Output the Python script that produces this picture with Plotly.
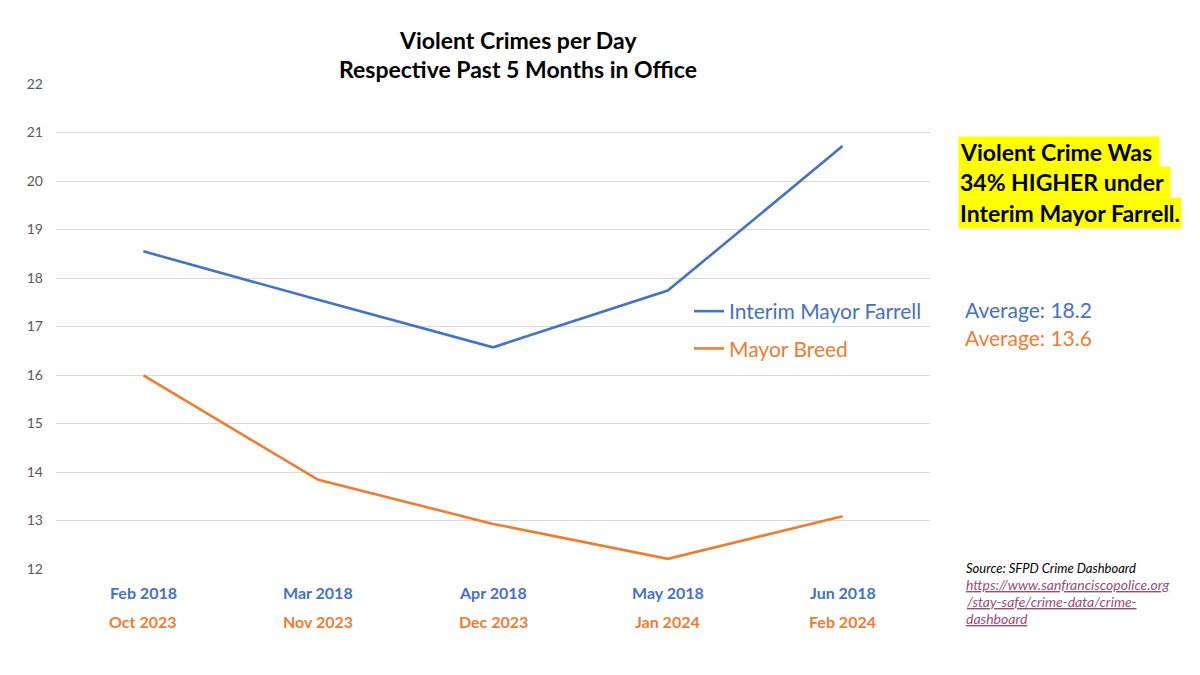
import plotly.graph_objects as go

months = ["Feb 2018", "Mar 2018", "Apr 2018", "May 2018", "Jun 2018"]
months_breed = ["Oct 2023", "Nov 2023", "Dec 2023", "Jan 2024", "Feb 2024"]
farrell = [18.55, 17.55, 16.57, 17.74, 20.72]
breed = [15.99, 13.84, 12.93, 12.21, 13.09]
y_ticks = [12, 13, 14, 15, 16, 17, 18, 19, 20, 21, 22]

BLUE = "#4472C4"
ORANGE = "#ED7D31"
FONT = "Lato"

# plot area in screen pixels (page body has an 8px offset)
PL, PR, PT, PB = 56, 930, 84, 569
OFF = 8

fig = go.Figure()
fig.add_trace(go.Scatter(x=months, y=farrell, mode="lines", legendgroup="a",
                         line=dict(color=BLUE, width=2.6),
                         name=f"<span style='color:{BLUE}'>Interim Mayor Farrell</span>"))
fig.add_trace(go.Scatter(x=months, y=breed, mode="lines", legendgroup="b",
                         line=dict(color=ORANGE, width=2.6),
                         name=f"<span style='color:{ORANGE}'>Mayor Breed</span>"))


def px_x(px):
    return (px - PL) / (PR - PL)


def px_y(py):
    return (PB - py) / (PB - PT)


fig.update_layout(
    width=1200, height=675,
    paper_bgcolor="white", plot_bgcolor="white",
    margin=dict(l=PL - OFF, r=1200 - PR + OFF, t=PT - OFF, b=675 - PB + OFF),
    font=dict(family=FONT),
    showlegend=True,
    legend=dict(x=px_x(689), y=px_y(291), xanchor="left", yanchor="top",
                font=dict(size=21, family=FONT), bgcolor="rgba(0,0,0,0)",
                tracegroupgap=7, itemwidth=30),
    xaxis=dict(type="category", range=[-0.5, 4.5], showticklabels=False,
               showgrid=False, zeroline=False, showline=False, ticks=""),
    yaxis=dict(range=[12, 22], tickvals=y_ticks, showgrid=True, gridcolor="#D9D9D9",
               gridwidth=1, zeroline=False, showline=False, ticks="",
               tickfont=dict(size=14, color="#595959", family=FONT), ticklabelstandoff=12),
)

anns = []
for m, mb in zip(months, months_breed):
    anns.append(dict(x=m, y=px_y(592), xref="x", yref="paper", text=f"<b>{m}</b>",
                     showarrow=False, font=dict(size=16, color=BLUE, family=FONT),
                     yanchor="middle"))
    anns.append(dict(x=m, y=px_y(621), xref="x", yref="paper", text=f"<b>{mb}</b>",
                     showarrow=False, font=dict(size=16, color=ORANGE, family=FONT),
                     yanchor="middle"))

anns.append(dict(x=px_x(518), y=px_y(40), xref="paper", yref="paper",
                 text="<b>Violent Crimes per Day</b>", showarrow=False,
                 font=dict(size=23, color="black", family=FONT), xanchor="center", yanchor="middle"))
anns.append(dict(x=px_x(518), y=px_y(69), xref="paper", yref="paper",
                 text="<b>Respective Past 5 Months in Office</b>", showarrow=False,
                 font=dict(size=23, color="black", family=FONT), xanchor="center", yanchor="middle"))

for txt, py in [("Violent Crime Was ", 152), ("34% HIGHER under ", 182), ("Interim Mayor Farrell.", 213)]:
    anns.append(dict(x=px_x(958), y=px_y(py), xref="paper", yref="paper",
                     text=f"<b>{txt}</b>", showarrow=False, bgcolor="#FFFF00", borderpad=1,
                     font=dict(size=23, color="black", family=FONT), xanchor="left", yanchor="middle"))

anns.append(dict(x=px_x(963), y=px_y(309), xref="paper", yref="paper", text="Average: 18.2",
                 showarrow=False, font=dict(size=21, color=BLUE, family=FONT),
                 xanchor="left", yanchor="middle"))
anns.append(dict(x=px_x(963), y=px_y(337), xref="paper", yref="paper", text="Average: 13.6",
                 showarrow=False, font=dict(size=21, color=ORANGE, family=FONT),
                 xanchor="left", yanchor="middle"))

anns.append(dict(x=px_x(964), y=px_y(568), xref="paper", yref="paper",
                 text="<i>Source: SFPD Crime Dashboard</i>", showarrow=False,
                 font=dict(size=13, color="black", family=FONT), xanchor="left", yanchor="middle"))
for txt, py in [("https://www.sanfranciscopolice.org", 584),
                ("/stay-safe/crime-data/crime-", 601),
                ("dashboard", 618)]:
    anns.append(dict(x=px_x(964), y=px_y(py), xref="paper", yref="paper",
                     text=f"<i><u>{txt}</u></i>", showarrow=False,
                     font=dict(size=14, color="#954F72", family=FONT), xanchor="left", yanchor="middle"))

fig.update_layout(annotations=anns)
fig.write_html("out.html")
